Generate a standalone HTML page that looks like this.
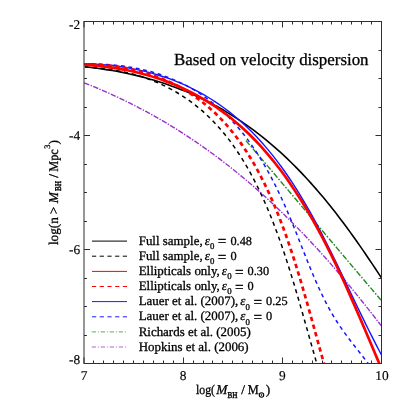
<!DOCTYPE html>
<html><head><meta charset="utf-8"><title>chart</title>
<style>
html,body{margin:0;padding:0;background:#fff;}
body{width:407px;height:407px;position:relative;overflow:hidden;font-family:"Liberation Serif",serif;color:#000;}
</style></head><body>
<svg width="407" height="407" viewBox="0 0 407 407" style="position:absolute;left:0;top:0;opacity:0.999;will-change:opacity"><defs><clipPath id="c"><rect x="84.0" y="21.5" width="297.5" height="342.0"/></clipPath></defs><g clip-path="url(#c)" fill="none" stroke-linejoin="round"><path d="M84.24,82.86C85.55,83.39 89.51,84.95 92.12,86.02C94.73,87.09 97.32,88.17 99.90,89.27C102.48,90.37 105.04,91.49 107.59,92.62C110.14,93.75 112.67,94.90 115.18,96.06C117.70,97.22 120.20,98.41 122.68,99.60C125.16,100.79 127.63,102.00 130.08,103.23C132.53,104.46 134.98,105.70 137.40,106.95C139.82,108.20 142.23,109.48 144.62,110.76C147.01,112.05 149.40,113.35 151.76,114.66C154.12,115.97 156.47,117.30 158.80,118.64C161.14,119.98 163.46,121.34 165.77,122.71C168.08,124.08 170.37,125.47 172.65,126.87C174.93,128.27 177.20,129.68 179.45,131.10C181.70,132.52 183.94,133.97 186.16,135.42C188.38,136.87 190.60,138.34 192.80,139.82C195.00,141.30 197.19,142.79 199.36,144.29C201.54,145.79 203.70,147.31 205.85,148.84C208.00,150.37 210.13,151.91 212.25,153.47C214.37,155.03 216.49,156.59 218.59,158.17C220.69,159.75 222.78,161.34 224.85,162.94C226.92,164.54 228.99,166.15 231.04,167.78C233.09,169.41 235.14,171.05 237.17,172.70C239.20,174.35 241.21,176.01 243.22,177.68C245.23,179.35 247.23,181.03 249.21,182.72C251.19,184.41 253.17,186.12 255.13,187.83C257.09,189.55 259.05,191.27 260.99,193.01C262.93,194.75 264.87,196.49 266.79,198.24C268.71,200.00 270.63,201.76 272.53,203.54C274.43,205.32 276.33,207.11 278.21,208.90C280.09,210.69 281.97,212.50 283.83,214.31C285.69,216.12 287.54,217.95 289.39,219.78C291.24,221.61 293.08,223.46 294.91,225.31C296.74,227.16 298.55,229.01 300.36,230.88C302.17,232.75 303.98,234.62 305.77,236.51C307.56,238.39 309.34,240.29 311.12,242.19C312.90,244.09 314.67,246.00 316.43,247.92C318.19,249.84 319.94,251.77 321.69,253.70C323.44,255.63 325.17,257.57 326.90,259.52C328.63,261.47 330.36,263.43 332.07,265.39C333.78,267.35 335.49,269.32 337.19,271.30C338.89,273.28 340.58,275.26 342.27,277.25C343.96,279.24 345.64,281.24 347.32,283.24C349.00,285.24 350.66,287.25 352.32,289.27C353.98,291.29 355.64,293.31 357.29,295.34C358.94,297.37 360.58,299.40 362.22,301.44C363.86,303.48 365.48,305.53 367.11,307.58C368.74,309.63 370.36,311.69 371.98,313.75C373.60,315.81 375.20,317.89 376.81,319.96C378.42,322.03 379.79,323.83 381.61,326.19C383.43,328.55 386.69,332.79 387.71,334.11" stroke="#9932cc" stroke-width="1.4" stroke-dasharray="5.4 1.4 1.4 1.4"/><path d="M245.95,140.65C246.41,141.19 247.80,142.82 248.73,143.90C249.66,144.98 250.58,146.07 251.51,147.15C252.44,148.23 253.36,149.32 254.29,150.40C255.22,151.48 256.14,152.57 257.07,153.65C258.00,154.73 258.91,155.82 259.84,156.90C260.76,157.98 261.69,159.06 262.62,160.15C263.55,161.24 264.47,162.32 265.39,163.41C266.31,164.50 267.24,165.58 268.16,166.67C269.08,167.76 270.01,168.84 270.93,169.93C271.85,171.02 272.78,172.09 273.70,173.18C274.62,174.27 275.55,175.36 276.47,176.45C277.39,177.54 278.32,178.62 279.24,179.71C280.16,180.80 281.08,181.88 282.00,182.97C282.92,184.06 283.85,185.14 284.77,186.23C285.69,187.32 286.61,188.41 287.53,189.50C288.45,190.59 289.37,191.67 290.29,192.76C291.21,193.85 292.14,194.94 293.06,196.03C293.98,197.12 294.90,198.21 295.82,199.30C296.74,200.39 297.66,201.47 298.58,202.56C299.50,203.65 300.42,204.74 301.34,205.83C302.26,206.92 303.18,208.01 304.10,209.10C305.02,210.19 305.94,211.28 306.86,212.37C307.78,213.46 308.70,214.55 309.62,215.64C310.54,216.73 311.46,217.82 312.38,218.91C313.30,220.00 314.22,221.09 315.14,222.18C316.06,223.27 316.98,224.36 317.90,225.45C318.82,226.54 319.73,227.63 320.65,228.72C321.57,229.81 322.49,230.90 323.41,231.99C324.33,233.08 325.25,234.17 326.17,235.26C327.09,236.35 328.01,237.44 328.93,238.53C329.85,239.62 330.77,240.71 331.69,241.80C332.61,242.89 333.53,243.98 334.45,245.07C335.37,246.16 336.28,247.25 337.20,248.34C338.12,249.43 339.04,250.52 339.96,251.61C340.88,252.70 341.80,253.79 342.72,254.88C343.64,255.97 344.56,257.06 345.48,258.15C346.40,259.24 347.32,260.32 348.24,261.41C349.16,262.50 350.08,263.59 351.00,264.68C351.92,265.77 352.84,266.86 353.76,267.95C354.68,269.04 355.61,270.13 356.53,271.22C357.45,272.31 358.37,273.39 359.29,274.48C360.21,275.57 361.13,276.66 362.05,277.75C362.97,278.84 363.90,279.92 364.82,281.01C365.74,282.10 366.66,283.19 367.58,284.28C368.50,285.37 369.43,286.45 370.35,287.54C371.27,288.63 372.19,289.71 373.11,290.80C374.03,291.89 374.96,292.97 375.88,294.06C376.80,295.15 377.73,296.23 378.65,297.32C379.57,298.41 379.88,298.77 381.42,300.58C382.96,302.39 386.82,306.93 387.90,308.20" stroke="#228b22" stroke-width="1.4" stroke-dasharray="5.8 1.6 1.6 1.7"/><path d="M84.83,66.87C86.50,66.98 91.55,67.27 94.83,67.56C98.11,67.85 101.32,68.20 104.48,68.61C107.64,69.02 110.74,69.48 113.78,70.00C116.82,70.52 119.81,71.09 122.74,71.72C125.67,72.35 128.55,73.04 131.38,73.78C134.21,74.52 136.98,75.31 139.70,76.15C142.42,76.99 145.09,77.89 147.71,78.83C150.33,79.77 152.90,80.78 155.42,81.82C157.94,82.86 160.41,83.95 162.83,85.09C165.25,86.23 167.63,87.42 169.96,88.65C172.29,89.88 174.58,91.17 176.82,92.49C179.06,93.81 181.26,95.18 183.41,96.59C185.56,98.00 187.67,99.45 189.74,100.95C191.81,102.45 193.84,103.98 195.83,105.56C197.82,107.14 199.76,108.75 201.67,110.40C203.58,112.05 205.45,113.75 207.29,115.48C209.12,117.21 210.92,118.99 212.68,120.79C214.44,122.59 216.16,124.43 217.85,126.30C219.54,128.17 221.19,130.08 222.82,132.02C224.44,133.96 226.04,135.94 227.60,137.94C229.16,139.94 230.68,141.97 232.18,144.04C233.68,146.10 235.15,148.21 236.59,150.33C238.03,152.45 239.44,154.60 240.83,156.78C242.22,158.96 243.58,161.17 244.91,163.40C246.24,165.63 247.55,167.89 248.83,170.17C250.11,172.45 251.37,174.75 252.61,177.08C253.85,179.41 255.06,181.76 256.25,184.13C257.44,186.50 258.62,188.90 259.77,191.31C260.92,193.72 262.05,196.16 263.16,198.61C264.27,201.06 265.36,203.53 266.43,206.02C267.50,208.51 268.56,211.02 269.60,213.55C270.64,216.08 271.66,218.62 272.66,221.18C273.67,223.74 274.65,226.31 275.63,228.90C276.61,231.49 277.56,234.09 278.51,236.71C279.46,239.33 280.39,241.97 281.31,244.61C282.23,247.25 283.13,249.90 284.03,252.57C284.93,255.24 285.81,257.92 286.69,260.61C287.56,263.30 288.42,266.00 289.28,268.71C290.13,271.42 290.98,274.13 291.82,276.86C292.66,279.59 293.49,282.32 294.31,285.06C295.13,287.80 295.96,290.55 296.77,293.30C297.58,296.05 298.38,298.81 299.18,301.57C299.98,304.33 300.78,307.11 301.57,309.88C302.36,312.65 303.15,315.43 303.94,318.20C304.73,320.97 305.51,323.75 306.30,326.53C307.09,329.31 307.87,332.09 308.65,334.87C309.43,337.65 310.21,340.43 311.00,343.21C311.79,345.99 312.57,348.77 313.36,351.55C314.15,354.33 314.88,356.88 315.73,359.87C316.58,362.86 318.01,367.89 318.47,369.49" stroke="#000" stroke-width="1.5" stroke-dasharray="4.1 3.8"/><path d="M83.53,63.87C85.53,63.88 91.59,63.83 95.50,63.93C99.41,64.03 103.24,64.21 107.00,64.47C110.76,64.73 114.43,65.06 118.04,65.47C121.65,65.88 125.18,66.36 128.64,66.91C132.10,67.46 135.47,68.09 138.79,68.79C142.10,69.49 145.35,70.26 148.53,71.09C151.71,71.92 154.82,72.83 157.86,73.80C160.90,74.77 163.88,75.80 166.79,76.90C169.70,78.00 172.56,79.16 175.35,80.38C178.14,81.60 180.86,82.90 183.53,84.24C186.20,85.58 188.81,86.98 191.36,88.44C193.91,89.90 196.41,91.42 198.85,92.99C201.29,94.56 203.68,96.19 206.01,97.87C208.34,99.55 210.62,101.28 212.85,103.06C215.08,104.84 217.27,106.67 219.40,108.55C221.53,110.43 223.61,112.37 225.65,114.34C227.69,116.31 229.68,118.34 231.63,120.40C233.58,122.46 235.48,124.57 237.34,126.72C239.20,128.87 241.03,131.06 242.81,133.29C244.59,135.52 246.33,137.78 248.04,140.09C249.75,142.40 251.42,144.74 253.05,147.12C254.69,149.50 256.28,151.91 257.85,154.36C259.42,156.81 260.95,159.29 262.45,161.80C263.95,164.31 265.43,166.84 266.87,169.41C268.31,171.98 269.73,174.58 271.12,177.20C272.51,179.82 273.87,182.48 275.21,185.15C276.55,187.82 277.87,190.51 279.16,193.23C280.46,195.95 281.73,198.69 282.98,201.45C284.23,204.21 285.46,206.99 286.68,209.79C287.90,212.59 289.10,215.40 290.28,218.23C291.46,221.06 292.62,223.90 293.78,226.75C294.94,229.60 296.09,232.48 297.23,235.35C298.37,238.22 299.50,241.09 300.64,243.97C301.77,246.85 302.90,249.74 304.04,252.61C305.18,255.48 306.32,258.35 307.47,261.21C308.62,264.07 309.78,266.92 310.96,269.76C312.14,272.60 313.32,275.43 314.53,278.23C315.74,281.03 316.97,283.82 318.22,286.58C319.47,289.34 320.74,292.07 322.05,294.78C323.36,297.48 324.69,300.17 326.06,302.81C327.43,305.45 328.83,308.06 330.28,310.63C331.72,313.20 333.20,315.73 334.73,318.21C336.26,320.69 337.84,323.13 339.45,325.53C341.06,327.93 342.72,330.29 344.40,332.62C346.08,334.95 347.79,337.25 349.52,339.53C351.25,341.81 353.01,344.06 354.77,346.32C356.53,348.57 358.30,350.81 360.07,353.06C361.84,355.31 363.62,357.54 365.37,359.80C367.12,362.06 368.71,364.15 370.60,366.60C372.49,369.06 375.68,373.21 376.70,374.53" stroke="#1414ff" stroke-width="1.5" stroke-dasharray="3.9 3.6"/><path d="M84.80,66.90C86.35,67.07 91.05,67.56 94.13,67.93C97.21,68.31 100.25,68.71 103.27,69.15C106.28,69.59 109.27,70.06 112.22,70.56C115.17,71.06 118.09,71.59 120.98,72.15C123.87,72.71 126.74,73.31 129.57,73.93C132.40,74.55 135.20,75.20 137.97,75.88C140.74,76.56 143.49,77.27 146.21,78.01C148.93,78.75 151.61,79.51 154.27,80.30C156.93,81.09 159.56,81.92 162.16,82.77C164.76,83.62 167.35,84.50 169.90,85.40C172.45,86.30 174.97,87.23 177.47,88.18C179.97,89.14 182.43,90.12 184.88,91.13C187.33,92.14 189.75,93.16 192.15,94.22C194.55,95.28 196.91,96.36 199.26,97.47C201.61,98.58 203.93,99.70 206.23,100.86C208.53,102.02 210.80,103.20 213.05,104.40C215.30,105.60 217.53,106.82 219.74,108.07C221.95,109.32 224.13,110.59 226.29,111.88C228.45,113.17 230.58,114.48 232.70,115.82C234.82,117.16 236.91,118.51 238.99,119.89C241.07,121.27 243.12,122.66 245.16,124.08C247.19,125.50 249.20,126.94 251.20,128.40C253.19,129.86 255.17,131.33 257.13,132.83C259.09,134.33 261.02,135.84 262.94,137.38C264.86,138.91 266.76,140.47 268.64,142.04C270.52,143.61 272.39,145.20 274.24,146.80C276.09,148.41 277.92,150.03 279.73,151.67C281.54,153.31 283.34,154.97 285.12,156.64C286.90,158.31 288.66,160.01 290.41,161.71C292.16,163.41 293.89,165.13 295.61,166.86C297.33,168.59 299.03,170.35 300.72,172.11C302.41,173.88 304.09,175.66 305.75,177.45C307.41,179.24 309.06,181.04 310.69,182.86C312.32,184.68 313.94,186.52 315.55,188.36C317.16,190.21 318.75,192.06 320.34,193.93C321.92,195.80 323.50,197.68 325.06,199.57C326.62,201.46 328.17,203.37 329.71,205.28C331.25,207.19 332.77,209.12 334.29,211.06C335.81,213.00 337.31,214.94 338.81,216.90C340.31,218.86 341.79,220.82 343.27,222.79C344.75,224.76 346.22,226.75 347.68,228.74C349.14,230.73 350.60,232.73 352.04,234.74C353.49,236.75 354.92,238.77 356.35,240.79C357.78,242.81 359.20,244.84 360.62,246.88C362.04,248.92 363.45,250.96 364.85,253.01C366.25,255.06 367.65,257.12 369.04,259.18C370.43,261.24 371.82,263.31 373.20,265.38C374.58,267.45 375.96,269.54 377.33,271.62C378.70,273.70 379.83,275.44 381.43,277.87C383.03,280.31 386.00,284.84 386.92,286.23" stroke="#000" stroke-width="1.6"/><path d="M84.29,63.61C86.20,63.70 92.01,63.90 95.77,64.14C99.53,64.38 103.23,64.68 106.87,65.04C110.51,65.40 114.09,65.82 117.61,66.30C121.13,66.78 124.59,67.31 128.00,67.91C131.41,68.50 134.75,69.16 138.05,69.87C141.35,70.58 144.59,71.34 147.77,72.16C150.96,72.98 154.08,73.85 157.16,74.77C160.24,75.69 163.26,76.67 166.23,77.70C169.20,78.73 172.13,79.81 175.00,80.94C177.87,82.07 180.69,83.25 183.47,84.47C186.25,85.69 188.98,86.96 191.66,88.28C194.34,89.60 196.98,90.97 199.57,92.38C202.16,93.79 204.71,95.25 207.21,96.75C209.71,98.25 212.17,99.79 214.59,101.37C217.01,102.95 219.38,104.59 221.72,106.25C224.06,107.91 226.34,109.62 228.60,111.36C230.86,113.10 233.08,114.89 235.26,116.71C237.44,118.53 239.59,120.39 241.70,122.28C243.81,124.17 245.88,126.10 247.92,128.06C249.96,130.02 251.96,132.02 253.93,134.05C255.90,136.08 257.85,138.14 259.76,140.23C261.67,142.32 263.54,144.45 265.39,146.60C267.24,148.75 269.07,150.93 270.86,153.14C272.65,155.35 274.41,157.59 276.15,159.85C277.89,162.11 279.60,164.41 281.29,166.72C282.98,169.03 284.63,171.37 286.27,173.73C287.91,176.09 289.52,178.48 291.12,180.89C292.72,183.30 294.29,185.72 295.84,188.17C297.39,190.62 298.93,193.09 300.44,195.58C301.95,198.07 303.45,200.57 304.93,203.09C306.41,205.61 307.86,208.16 309.31,210.71C310.76,213.27 312.19,215.83 313.61,218.42C315.03,221.00 316.43,223.61 317.82,226.22C319.21,228.83 320.58,231.46 321.95,234.09C323.32,236.72 324.67,239.37 326.02,242.02C327.37,244.67 328.70,247.34 330.03,250.01C331.36,252.68 332.68,255.37 334.00,258.05C335.32,260.74 336.62,263.42 337.93,266.12C339.24,268.82 340.53,271.53 341.83,274.23C343.13,276.94 344.43,279.64 345.72,282.35C347.01,285.06 348.30,287.77 349.59,290.48C350.88,293.19 352.17,295.90 353.46,298.61C354.75,301.32 356.04,304.03 357.34,306.73C358.64,309.43 359.94,312.13 361.25,314.83C362.56,317.53 363.86,320.22 365.17,322.91C366.49,325.60 367.81,328.28 369.14,330.95C370.47,333.62 371.80,336.28 373.15,338.94C374.50,341.60 375.85,344.25 377.22,346.88C378.59,349.51 379.89,351.96 381.35,354.75C382.81,357.54 385.23,362.12 386.00,363.60" stroke="#1414ff" stroke-width="1.4"/><path d="M84.06,64.24C85.82,64.30 91.16,64.41 94.62,64.60C98.08,64.78 101.47,65.04 104.80,65.35C108.13,65.66 111.40,66.04 114.61,66.47C117.82,66.90 120.96,67.40 124.05,67.95C127.14,68.50 130.17,69.12 133.14,69.79C136.11,70.46 139.02,71.20 141.88,71.98C144.74,72.76 147.54,73.60 150.29,74.49C153.04,75.38 155.73,76.34 158.37,77.34C161.01,78.34 163.60,79.40 166.14,80.50C168.68,81.60 171.16,82.75 173.60,83.96C176.04,85.16 178.43,86.43 180.77,87.73C183.11,89.03 185.39,90.39 187.64,91.78C189.88,93.17 192.09,94.61 194.24,96.10C196.40,97.59 198.50,99.12 200.57,100.70C202.64,102.28 204.67,103.89 206.65,105.55C208.63,107.21 210.57,108.91 212.47,110.65C214.37,112.39 216.24,114.17 218.06,115.99C219.88,117.81 221.67,119.67 223.42,121.56C225.17,123.45 226.87,125.38 228.55,127.35C230.23,129.31 231.87,131.32 233.48,133.35C235.09,135.38 236.67,137.45 238.21,139.55C239.75,141.65 241.26,143.78 242.74,145.94C244.22,148.10 245.67,150.30 247.09,152.52C248.51,154.74 249.91,156.98 251.28,159.26C252.65,161.53 253.99,163.84 255.30,166.17C256.61,168.50 257.90,170.84 259.16,173.22C260.43,175.60 261.67,178.01 262.89,180.43C264.11,182.85 265.31,185.29 266.48,187.76C267.66,190.23 268.81,192.72 269.94,195.23C271.07,197.74 272.19,200.27 273.28,202.82C274.37,205.37 275.44,207.94 276.50,210.52C277.56,213.11 278.60,215.71 279.62,218.33C280.64,220.95 281.64,223.59 282.63,226.24C283.62,228.89 284.60,231.57 285.56,234.25C286.52,236.93 287.46,239.62 288.39,242.33C289.32,245.04 290.24,247.76 291.15,250.50C292.06,253.24 292.95,255.98 293.84,258.74C294.73,261.50 295.61,264.26 296.47,267.04C297.34,269.82 298.18,272.60 299.03,275.40C299.88,278.19 300.72,281.00 301.55,283.81C302.38,286.62 303.20,289.45 304.02,292.27C304.84,295.09 305.65,297.92 306.46,300.75C307.27,303.58 308.07,306.43 308.87,309.27C309.67,312.11 310.47,314.96 311.26,317.81C312.05,320.66 312.84,323.51 313.63,326.36C314.42,329.21 315.21,332.07 316.00,334.92C316.79,337.77 317.58,340.63 318.37,343.48C319.16,346.33 319.95,349.18 320.74,352.03C321.53,354.88 322.28,357.54 323.13,360.57C323.98,363.60 325.38,368.59 325.83,370.20" stroke="#ff0000" stroke-width="2.7" stroke-dasharray="4.4 3.5"/><path d="M84.59,64.71C86.46,64.86 92.11,65.24 95.79,65.59C99.47,65.94 103.09,66.35 106.65,66.81C110.22,67.27 113.73,67.80 117.18,68.37C120.64,68.94 124.03,69.57 127.38,70.25C130.73,70.93 134.03,71.67 137.27,72.45C140.51,73.23 143.70,74.07 146.84,74.96C149.98,75.85 153.07,76.79 156.11,77.78C159.15,78.77 162.15,79.80 165.09,80.88C168.03,81.96 170.93,83.09 173.78,84.27C176.63,85.45 179.44,86.67 182.20,87.94C184.96,89.21 187.67,90.52 190.34,91.88C193.01,93.24 195.64,94.64 198.23,96.08C200.82,97.52 203.36,99.00 205.86,100.52C208.36,102.04 210.82,103.61 213.25,105.22C215.68,106.83 218.06,108.47 220.41,110.15C222.76,111.83 225.07,113.55 227.34,115.30C229.61,117.05 231.85,118.85 234.05,120.68C236.25,122.51 238.41,124.37 240.54,126.26C242.67,128.16 244.77,130.09 246.84,132.05C248.91,134.01 250.94,136.00 252.94,138.03C254.94,140.06 256.92,142.11 258.86,144.20C260.80,146.29 262.72,148.41 264.60,150.55C266.48,152.69 268.33,154.86 270.16,157.06C271.99,159.26 273.79,161.49 275.57,163.74C277.35,165.99 279.10,168.26 280.83,170.56C282.56,172.86 284.26,175.19 285.94,177.54C287.62,179.89 289.27,182.26 290.91,184.65C292.55,187.04 294.16,189.46 295.76,191.89C297.36,194.32 298.93,196.78 300.48,199.25C302.04,201.72 303.57,204.21 305.09,206.72C306.61,209.23 308.10,211.76 309.58,214.31C311.06,216.86 312.52,219.42 313.97,222.00C315.42,224.58 316.85,227.18 318.27,229.79C319.69,232.40 321.08,235.03 322.47,237.67C323.86,240.31 325.23,242.97 326.59,245.64C327.95,248.31 329.29,250.99 330.63,253.68C331.97,256.37 333.29,259.08 334.60,261.80C335.91,264.52 337.21,267.24 338.50,269.98C339.79,272.72 341.07,275.46 342.34,278.22C343.61,280.98 344.88,283.75 346.13,286.52C347.38,289.29 348.63,292.07 349.87,294.86C351.11,297.65 352.34,300.45 353.57,303.25C354.80,306.05 356.01,308.85 357.23,311.66C358.45,314.47 359.66,317.29 360.87,320.11C362.08,322.93 363.29,325.75 364.49,328.58C365.69,331.40 366.89,334.23 368.09,337.06C369.29,339.89 370.48,342.72 371.68,345.55C372.88,348.38 374.07,351.22 375.27,354.05C376.47,356.88 377.61,359.59 378.86,362.54C380.11,365.49 382.10,370.22 382.75,371.75" stroke="#ff0000" stroke-width="2.7"/></g><path d="M84.00,363.5v-6.0M84.00,21.5v6.0M93.50,363.5v-3.0M93.50,21.5v3.0M103.50,363.5v-3.0M103.50,21.5v3.0M113.50,363.5v-3.0M113.50,21.5v3.0M123.50,363.5v-3.0M123.50,21.5v3.0M133.50,363.5v-3.0M133.50,21.5v3.0M143.50,363.5v-3.0M143.50,21.5v3.0M153.50,363.5v-3.0M153.50,21.5v3.0M163.50,363.5v-3.0M163.50,21.5v3.0M173.50,363.5v-3.0M173.50,21.5v3.0M183.50,363.5v-6.0M183.50,21.5v6.0M193.50,363.5v-3.0M193.50,21.5v3.0M203.50,363.5v-3.0M203.50,21.5v3.0M212.50,363.5v-3.0M212.50,21.5v3.0M222.50,363.5v-3.0M222.50,21.5v3.0M232.50,363.5v-3.0M232.50,21.5v3.0M242.50,363.5v-3.0M242.50,21.5v3.0M252.50,363.5v-3.0M252.50,21.5v3.0M262.50,363.5v-3.0M262.50,21.5v3.0M272.50,363.5v-3.0M272.50,21.5v3.0M282.50,363.5v-6.0M282.50,21.5v6.0M292.50,363.5v-3.0M292.50,21.5v3.0M302.50,363.5v-3.0M302.50,21.5v3.0M312.50,363.5v-3.0M312.50,21.5v3.0M322.50,363.5v-3.0M322.50,21.5v3.0M331.50,363.5v-3.0M331.50,21.5v3.0M341.50,363.5v-3.0M341.50,21.5v3.0M351.50,363.5v-3.0M351.50,21.5v3.0M361.50,363.5v-3.0M361.50,21.5v3.0M371.50,363.5v-3.0M371.50,21.5v3.0M381.50,363.5v-6.0M381.50,21.5v6.0M84.0,21.50h6.0M381.5,21.50h-6.0M84.0,50.50h3.0M381.5,50.50h-3.0M84.0,78.50h3.0M381.5,78.50h-3.0M84.0,107.50h3.0M381.5,107.50h-3.0M84.0,135.50h6.0M381.5,135.50h-6.0M84.0,164.50h3.0M381.5,164.50h-3.0M84.0,192.50h3.0M381.5,192.50h-3.0M84.0,221.50h3.0M381.5,221.50h-3.0M84.0,249.50h6.0M381.5,249.50h-6.0M84.0,278.50h3.0M381.5,278.50h-3.0M84.0,306.50h3.0M381.5,306.50h-3.0M84.0,335.50h3.0M381.5,335.50h-3.0M84.0,363.50h6.0M381.5,363.50h-6.0" stroke="#2e2e2e" stroke-width="1.0" fill="none"/><rect x="84.0" y="21.5" width="297.5" height="342.0" fill="none" stroke="#2e2e2e" stroke-width="1.0"/><path d="M92,241.1H127" stroke="#000" stroke-width="1.0" fill="none"/><path d="M92,256.2H127" stroke="#000" stroke-width="1.0" stroke-dasharray="4.2 3.5" fill="none"/><path d="M92,271.4H127" stroke="#ff0000" stroke-width="1.0" fill="none"/><path d="M92,286.5H127" stroke="#ff0000" stroke-width="1.0" stroke-dasharray="4.2 3.5" fill="none"/><path d="M92,301.6H127" stroke="#1a1aff" stroke-width="1.0" fill="none"/><path d="M92,316.8H127" stroke="#1a1aff" stroke-width="1.0" stroke-dasharray="4.2 3.5" fill="none"/><path d="M91.7,331.9H126.5" stroke="#7fc07f" stroke-width="1.3" stroke-dasharray="4.3 1.9 1 1.8" fill="none"/><path d="M91.7,347.0H126.5" stroke="#c79be8" stroke-width="1.3" stroke-dasharray="4.3 1.9 1 1.8" fill="none"/><g font-family="Liberation Serif, serif" fill="#000" text-rendering="geometricPrecision" stroke="#000" stroke-width="0.3"><text x="80.2" y="29.2" font-size="13.4" text-anchor="end" stroke-width="0.15">-2</text><text x="80.2" y="139.7" font-size="13.4" text-anchor="end" stroke-width="0.15">-4</text><text x="80.2" y="254.2" font-size="13.4" text-anchor="end" stroke-width="0.15">-6</text><text x="80.2" y="363.9" font-size="13.4" text-anchor="end" stroke-width="0.15">-8</text><text x="84" y="380.3" font-size="13.4" text-anchor="middle" stroke-width="0.15">7</text><text x="183.2" y="380.3" font-size="13.4" text-anchor="middle" stroke-width="0.15">8</text><text x="282.3" y="380.3" font-size="13.4" text-anchor="middle" stroke-width="0.15">9</text><text x="381.9" y="380.3" font-size="13.4" text-anchor="middle" stroke-width="0.15">10</text><text x="173.9" y="64.6" font-size="16.9" text-anchor="start" >Based on velocity dispersion</text><text x="138.7" y="244.8" font-size="12.95" text-anchor="start" id="r0">Full sample, <tspan font-style="italic" dx="-1.2">ε</tspan><tspan font-size="8.8" dy="4.2" dx="0.2">0</tspan><tspan dy="-4.2" dx="0.2"> </tspan><tspan font-size="15.3" dy="1.6">=</tspan><tspan dy="-1.6" dx="0.9" font-size="12.3"> 0.48</tspan></text><text x="138.7" y="259.93" font-size="12.95" text-anchor="start" id="r1">Full sample, <tspan font-style="italic" dx="-1.2">ε</tspan><tspan font-size="8.8" dy="4.2" dx="0.2">0</tspan><tspan dy="-4.2" dx="0.2"> </tspan><tspan font-size="15.3" dy="1.6">=</tspan><tspan dy="-1.6" dx="0.9" font-size="12.3"> 0</tspan></text><text x="138.7" y="275.06" font-size="12.95" text-anchor="start" id="r2">Ellipticals only, <tspan font-style="italic" dx="-1.2">ε</tspan><tspan font-size="8.8" dy="4.2" dx="0.2">0</tspan><tspan dy="-4.2" dx="0.2"> </tspan><tspan font-size="15.3" dy="1.6">=</tspan><tspan dy="-1.6" dx="0.9" font-size="12.3"> 0.30</tspan></text><text x="138.7" y="290.19" font-size="12.95" text-anchor="start" id="r3">Ellipticals only, <tspan font-style="italic" dx="-1.2">ε</tspan><tspan font-size="8.8" dy="4.2" dx="0.2">0</tspan><tspan dy="-4.2" dx="0.2"> </tspan><tspan font-size="15.3" dy="1.6">=</tspan><tspan dy="-1.6" dx="0.9" font-size="12.3"> 0</tspan></text><text x="138.7" y="305.32" font-size="12.95" text-anchor="start" id="r4">Lauer et al. (2007), <tspan font-style="italic" dx="-1.2">ε</tspan><tspan font-size="8.8" dy="4.2" dx="0.2">0</tspan><tspan dy="-4.2" dx="0.2"> </tspan><tspan font-size="15.3" dy="1.6">=</tspan><tspan dy="-1.6" dx="0.9" font-size="12.3"> 0.25</tspan></text><text x="138.7" y="320.45" font-size="12.95" text-anchor="start" id="r5">Lauer et al. (2007), <tspan font-style="italic" dx="-1.2">ε</tspan><tspan font-size="8.8" dy="4.2" dx="0.2">0</tspan><tspan dy="-4.2" dx="0.2"> </tspan><tspan font-size="15.3" dy="1.6">=</tspan><tspan dy="-1.6" dx="0.9" font-size="12.3"> 0</tspan></text><text x="138.7" y="335.58" font-size="12.95" text-anchor="start" id="r6">Richards et al. (2005)</text><text x="138.7" y="350.71" font-size="12.95" text-anchor="start" id="r7">Hopkins et al. (2006)</text><text y="394.4" font-size="13.4" id="xl"><tspan x="196.0" textLength="19.0" lengthAdjust="spacingAndGlyphs">log(</tspan><tspan x="216.2" font-style="italic">M</tspan><tspan x="241.2">/</tspan><tspan x="247.8" textLength="11.0" lengthAdjust="spacingAndGlyphs">M</tspan><tspan x="265.7">)</tspan></text><text x="227.5" y="397.6" font-size="8.8" textLength="10.0" lengthAdjust="spacingAndGlyphs" stroke-width="0.45">BH</text><circle cx="261.5" cy="395.0" r="2.25" fill="none" stroke="#000" stroke-width="1.05"/><circle cx="261.5" cy="395.0" r="0.7" fill="#000"/><g transform="translate(57.6,244.9) rotate(-90)"><text y="0" font-size="13.4" id="yl"><tspan x="-0.2" textLength="27.9" lengthAdjust="spacingAndGlyphs">log(n</tspan><tspan x="30.6">&gt;</tspan><tspan x="41.7" font-style="italic">M</tspan><tspan x="67.2">/</tspan><tspan x="73.2" textLength="22.5" lengthAdjust="spacingAndGlyphs">Mpc</tspan><tspan x="96.2" y="-7.4" font-size="8.4">3</tspan><tspan x="100.5" y="0">)</tspan></text><text x="53.8" y="2.9" font-size="8.8" textLength="10.0" lengthAdjust="spacingAndGlyphs" stroke-width="0.45">BH</text></g></g></svg>
</body></html>
